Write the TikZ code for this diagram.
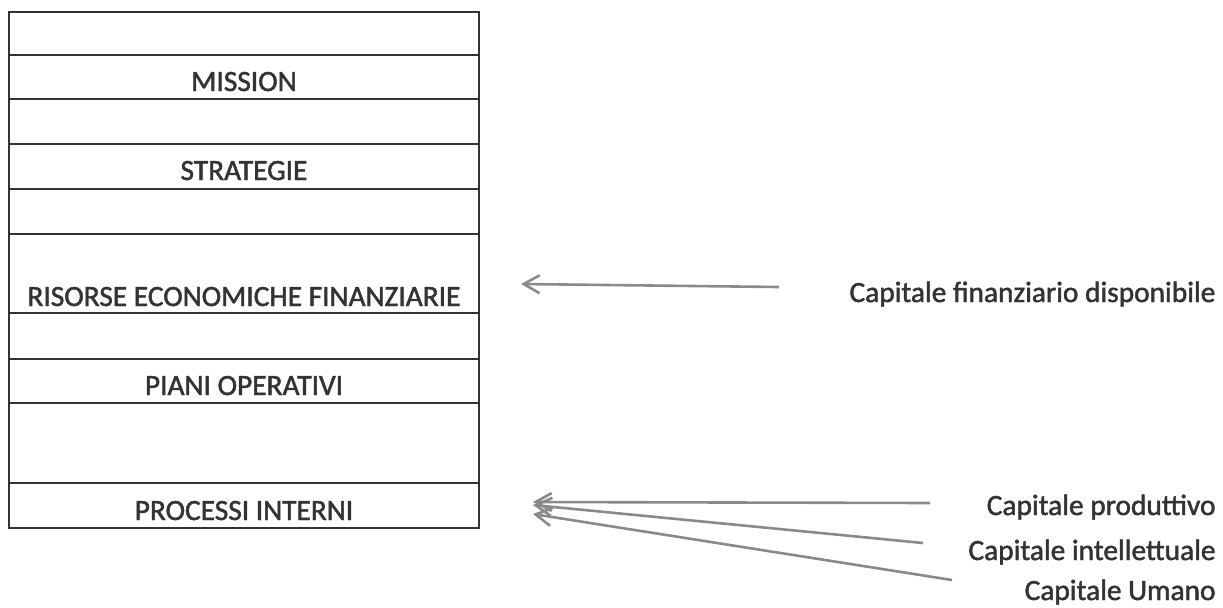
\documentclass[tikz,border=0pt]{standalone}
\usepackage{fontspec}
\setmainfont{Carlito}
\newfontfamily\scanfont[FakeBold=1.6]{Carlito}
\usetikzlibrary{arrows.meta}
\definecolor{boxgray}{HTML}{333333}
\definecolor{txtgray}{HTML}{333333}
\definecolor{arrgray}{HTML}{8A8A8A}
\tikzstyle{layer}=[anchor=base,text=txtgray,inner sep=0pt,font=\scanfont\fontsize{14.7}{17}\selectfont]
\tikzstyle{source}=[anchor=base east,text=txtgray,inner sep=0pt,font=\scanfont\fontsize{14.7}{17}\selectfont]
\tikzstyle{feed}=[draw=arrgray,line width=1.3pt,-{Straight Barb[length=8pt,width=9pt]}]

\begin{document}
\begin{tikzpicture}[x=0.5pt,y=-0.5pt]
  \useasboundingbox (0,0) rectangle (1223,607);

  % layers of the box
  \draw[boxgray,line width=1.3pt] (9,12) rectangle (479,528);
  \foreach \y in {55,99,144,189,234,313,359,403,483}{
    \draw[boxgray,line width=1.3pt] (9,\y) -- (479,\y);
  }

  \node[layer] (mission) at (244,91) {MISSION};
  \node[layer] (strat) at (244,180) {STRATEGIE};
  \node[layer] (risorse) at (244,306) {RISORSE ECONOMICHE FINANZIARIE};
  \node[layer] (piani) at (244,395) {PIANI OPERATIVI};
  \node[layer] (processi) at (244,520) {PROCESSI INTERNI};

  % capitals
  \node[source] (fin) at (1216,302) {Capitale finanziario disponibile};
  \node[source] (prod) at (1216,515) {Capitale produttivo};
  \node[source] (intel) at (1216,560) {Capitale intellettuale};
  \node[source] (umano) at (1216,600) {Capitale Umano};

  \coordinate (fin-a) at (779,287);
  \coordinate (fin-b) at (521,284);
  \coordinate (prod-a) at (930,503);
  \coordinate (prod-b) at (533,502);
  \coordinate (intel-a) at (923,543);
  \coordinate (intel-b) at (533,505);
  \coordinate (umano-a) at (952,580);
  \coordinate (umano-b) at (533,514);

  \draw[feed] (fin-a) -- (fin-b);
  \draw[feed] (prod-a) -- (prod-b);
  \draw[feed] (intel-a) -- (intel-b);
  \draw[feed] (umano-a) -- (umano-b);

\end{tikzpicture}
\end{document}
